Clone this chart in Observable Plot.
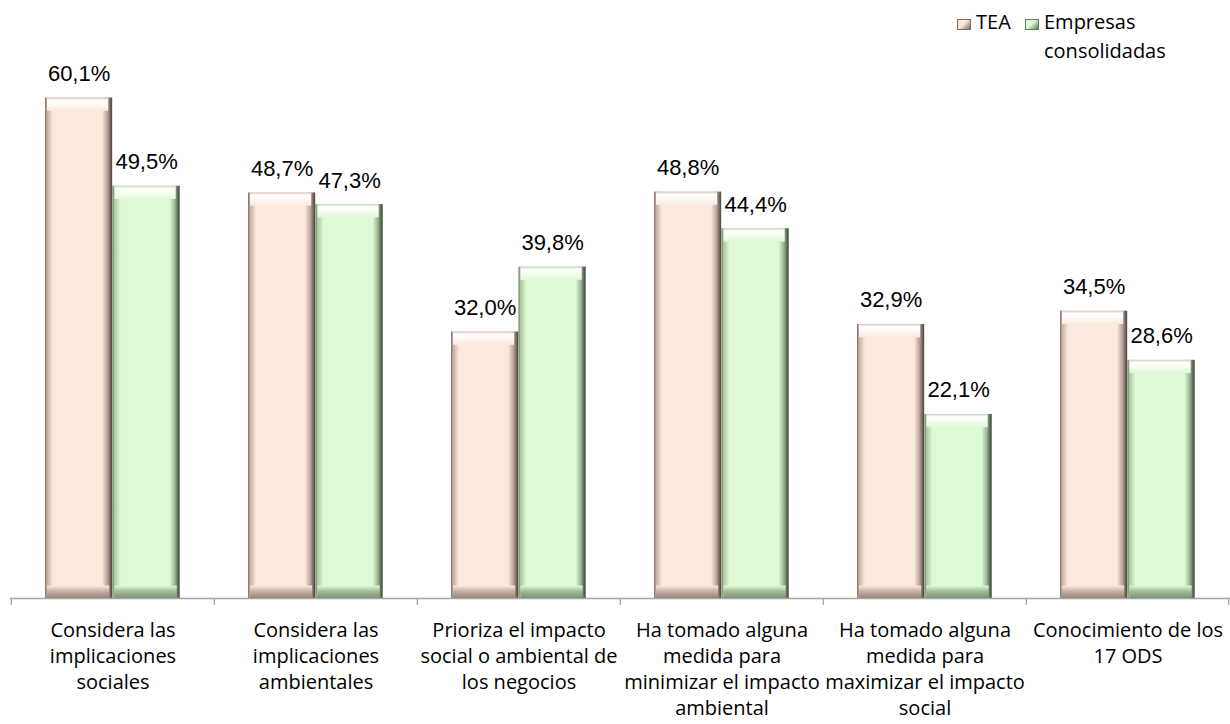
<!DOCTYPE html>
<html>
<head>
<meta charset="utf-8">
<script src="https://cdn.jsdelivr.net/npm/d3@7"></script>
<script src="https://cdn.jsdelivr.net/npm/@observablehq/plot@0.6"></script>
<style>
  html, body { margin: 0; padding: 0; background: #fff; }
  #wrap { position: relative; width: 1230px; height: 724px; overflow: hidden; }
  #chart { position: absolute; left: 0; top: 0; }
  .legend { position: absolute; font-family: "Open Sans", sans-serif; font-size: 20px; color: #000; line-height: 29px; }
  .sw { position: absolute; width: 14px; height: 11px; box-sizing: border-box; }
</style>
</head>
<body>
<svg width="0" height="0" style="position:absolute">
  <defs>
    <linearGradient id="hP" x1="0" y1="0" x2="1" y2="0">
      <stop offset="0" stop-color="#7d6c66"/>
      <stop offset="0.03" stop-color="#c4ada4"/>
      <stop offset="0.12" stop-color="#fce9de"/>
      <stop offset="0.85" stop-color="#fce9de"/>
      <stop offset="0.93" stop-color="#b9a39a"/>
      <stop offset="1" stop-color="#4a403c"/>
    </linearGradient>
    <linearGradient id="hG" x1="0" y1="0" x2="1" y2="0">
      <stop offset="0" stop-color="#627a5d"/>
      <stop offset="0.03" stop-color="#abc8a1"/>
      <stop offset="0.12" stop-color="#def9d6"/>
      <stop offset="0.85" stop-color="#def9d6"/>
      <stop offset="0.93" stop-color="#99b390"/>
      <stop offset="1" stop-color="#354232"/>
    </linearGradient>
    <linearGradient id="tP" x1="0" y1="0" x2="0" y2="1">
      <stop offset="0" stop-color="#d9c4ba"/>
      <stop offset="0.2" stop-color="#ffffff"/>
      <stop offset="0.55" stop-color="#fff7f2"/>
      <stop offset="1" stop-color="#fce9de"/>
    </linearGradient>
    <linearGradient id="tG" x1="0" y1="0" x2="0" y2="1">
      <stop offset="0" stop-color="#bcd8b2"/>
      <stop offset="0.2" stop-color="#ffffff"/>
      <stop offset="0.55" stop-color="#f5fff1"/>
      <stop offset="1" stop-color="#def9d6"/>
    </linearGradient>
    <linearGradient id="bP" x1="0" y1="0" x2="0" y2="1">
      <stop offset="0" stop-color="#fce9de"/>
      <stop offset="0.45" stop-color="#c8b1a7"/>
      <stop offset="1" stop-color="#968078"/>
    </linearGradient>
    <linearGradient id="bG" x1="0" y1="0" x2="0" y2="1">
      <stop offset="0" stop-color="#def9d6"/>
      <stop offset="0.45" stop-color="#a3bd9a"/>
      <stop offset="1" stop-color="#7a8f74"/>
    </linearGradient>
  </defs>
</svg>
<div id="wrap">
  <div id="chart"></div>
  <div class="sw" style="left:957px;top:19px;background:linear-gradient(135deg,#fce9de 0%,#fce9de 45%,#7d6c66 100%);border:1px solid #7d6c66"></div>
  <div class="legend" style="left:976px;top:7px;">TEA</div>
  <div class="sw" style="left:1025px;top:19px;background:linear-gradient(135deg,#def9d6 0%,#def9d6 45%,#627a5d 100%);border:1px solid #627a5d"></div>
  <div class="legend" style="left:1044px;top:7px;">Empresas<br>consolidadas</div>
</div>
<script>
const categories = [
  "Considera las\nimplicaciones\nsociales",
  "Considera las\nimplicaciones\nambientales",
  "Prioriza el impacto\nsocial o ambiental de\nlos negocios",
  "Ha tomado alguna\nmedida para\nminimizar el impacto\nambiental",
  "Ha tomado alguna\nmedida para\nmaximizar el impacto\nsocial",
  "Conocimiento de los\n17 ODS"
];
const series = ["TEA", "Empresas consolidadas"];
const teaValues = [60.1, 48.7, 32.0, 48.8, 32.9, 34.5];
const empValues = [49.5, 47.3, 39.8, 44.4, 22.1, 28.6];

const tea = categories.map((c, i) => ({cat: c, series: series[0], value: teaValues[i]}));
const emp = categories.map((c, i) => ({cat: c, series: series[1], value: empValues[i]}));

const W = 1230, H = 724, mL = 10, mR = 0, mT = 15, mB = 126;
const bw = (W - mL - mR) / categories.length;
const barLeftT = 34, barW = 67.5;
const tInL = barLeftT, tInR = bw - barLeftT - barW;
const eInL = barLeftT + barW, eInR = bw - barLeftT - 2 * barW;
const tDx = barLeftT + barW / 2 - bw / 2;
const eDx = barLeftT + 1.5 * barW - bw / 2;
const fmt = v => v.toFixed(1).replace(".", ",") + "%";

function barSet(data, inL, inR, h, t, b) {
  return [
    Plot.barY(data, {x: "cat", y: "value", fill: `url(#${h})`, insetLeft: inL, insetRight: inR}),
    Plot.rectY(data, {x: "cat", y1: d => d.value, y2: d => d.value - 1.6, fill: `url(#${t})`, insetLeft: inL + 2, insetRight: inR + 4}),
    Plot.rectY(data, {x: "cat", y1: 0, y2: 1.5, fill: `url(#${b})`, insetLeft: inL + 2, insetRight: inR + 3})
  ];
}

const chart = Plot.plot({
  width: W, height: H,
  marginLeft: mL, marginRight: mR, marginTop: mT, marginBottom: mB,
  x: {domain: categories, padding: 0, axis: null},
  y: {domain: [0, 70], axis: null},
  style: {fontFamily: "'Open Sans', sans-serif", background: "transparent"},
  marks: [
    ...barSet(tea, tInL, tInR, "hP", "tP", "bP"),
    ...barSet(emp, eInL, eInR, "hG", "tG", "bG"),
    Plot.ruleY([0], {stroke: "#a6a6a6", strokeWidth: 1.3}),
    Plot.ruleX(categories, {x: d => d, y1: 0, y2: -0.85, dx: -bw / 2, stroke: "#a6a6a6", strokeWidth: 1.3}),
    Plot.ruleX(categories.slice(-1), {x: d => d, y1: 0, y2: -0.85, dx: bw / 2 - 1, stroke: "#a6a6a6", strokeWidth: 1.3}),
    Plot.text(tea, {x: "cat", y: "value", text: d => fmt(d.value), dx: tDx, dy: -17, lineAnchor: "bottom", fontSize: 22, fontFamily: "'Liberation Sans', Arial, sans-serif", fill: "#000"}),
    Plot.text(emp, {x: "cat", y: "value", text: d => fmt(d.value), dx: eDx, dy: -17, lineAnchor: "bottom", fontSize: 22, fontFamily: "'Liberation Sans', Arial, sans-serif", fill: "#000"}),
    Plot.text(categories, {x: d => d, y: 0, text: d => d, lineAnchor: "top", dy: 20, fontSize: 20, lineHeight: 1.3, fill: "#000"})
  ]
});
document.getElementById("chart").appendChild(chart);
</script>
</body>
</html>
